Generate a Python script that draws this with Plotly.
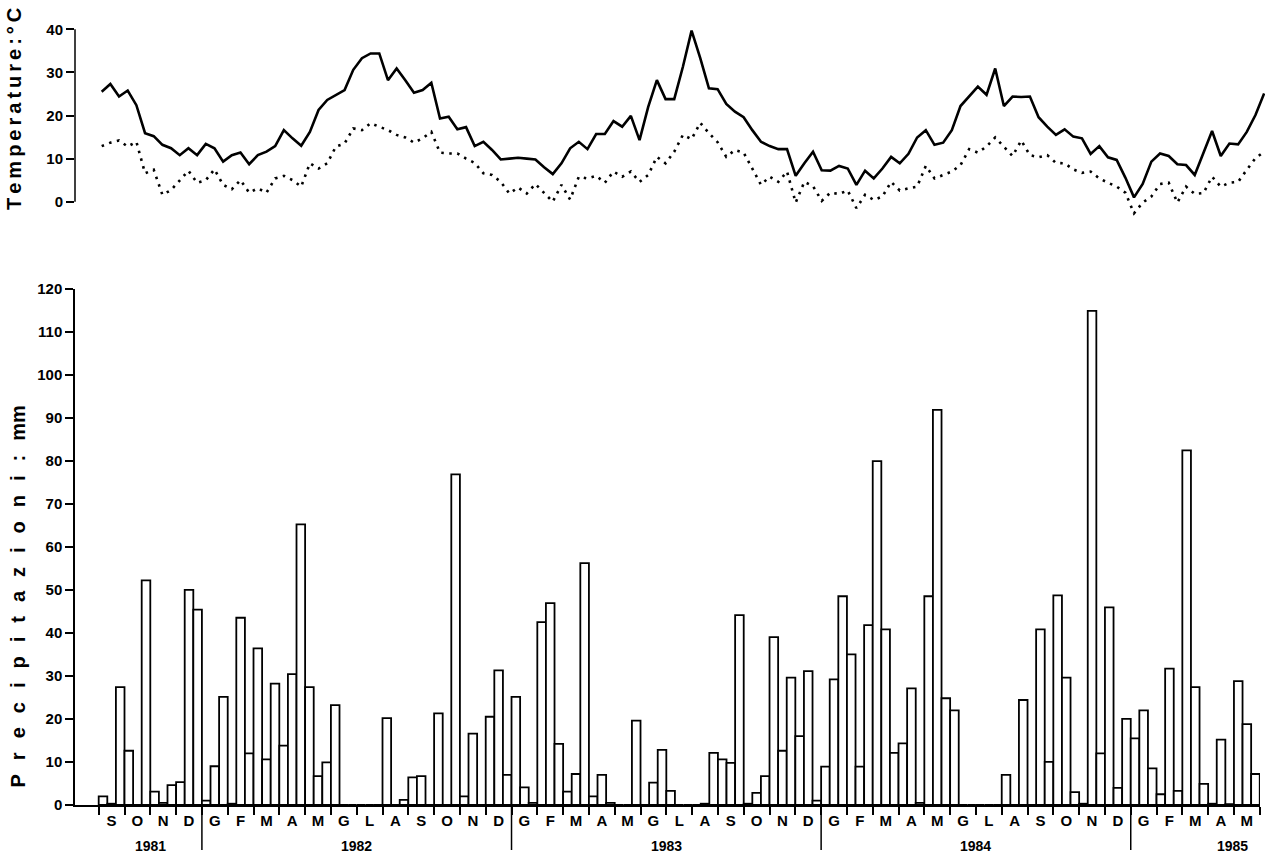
import plotly.graph_objects as go

# ---------------- data (10-day periods, Sep 1981 - May 1985) ----------------
precip_1981 = [2.0, 0.3, 27.4, 12.6, 0.0, 52.2, 3.1, 0.5, 4.6, 5.3, 50.0, 45.4]
precip_1982 = [1.0, 9.0, 25.1, 0.3, 43.5, 12.0, 36.4, 10.6, 28.2, 13.8, 30.4, 65.2,
               27.4, 6.7, 9.9, 23.2, 0.0, 0.0, 0.0, 0.0, 0.0, 20.2, 0.0, 1.2,
               6.4, 6.7, 0.0, 21.3, 0.0, 76.8, 2.0, 16.6, 0.0, 20.5, 31.3, 7.0]
precip_1983 = [25.1, 4.1, 0.5, 42.5, 46.9, 14.2, 3.1, 7.2, 56.2, 2.0, 7.0, 0.5,
               0.0, 0.0, 19.6, 0.0, 5.2, 12.8, 3.3, 0.0, 0.0, 0.0, 0.3, 12.1,
               10.6, 9.8, 44.1, 0.3, 2.8, 6.7, 39.0, 12.6, 29.6, 16.0, 31.1, 1.0]
precip_1984 = [8.9, 29.2, 48.5, 35.0, 8.9, 41.8, 79.9, 40.8, 12.1, 14.3, 27.1, 0.5,
               48.5, 91.8, 24.8, 22.0, 0.0, 0.0, 0.0, 0.0, 0.0, 7.0, 0.0, 24.4,
               0.0, 40.8, 10.0, 48.7, 29.6, 3.0, 0.3, 114.8, 12.0, 45.9, 4.0, 20.0]
precip_1985 = [15.5, 22.0, 8.5, 2.5, 31.7, 3.3, 82.4, 27.4, 4.9, 0.3, 15.2, 0.2,
               28.8, 18.8, 7.2]
precip = precip_1981 + precip_1982 + precip_1983 + precip_1984 + precip_1985

tmax = [
    25.5, 27.3, 24.4, 25.8, 22.4, 15.9, 15.2, 13.2, 12.4, 10.8,
    12.4, 10.8, 13.4, 12.4, 9.3, 10.8, 11.4, 8.7, 10.8, 11.6,
    12.9, 16.6, 14.7, 13.0, 16.2, 21.3, 23.6, 24.8, 25.9, 30.6,
    33.3, 34.4, 34.4, 28.2, 30.9, 28.2, 25.3, 25.9, 27.6, 19.3,
    19.7, 16.8, 17.3, 12.9, 13.9, 12.0, 9.8, 10.0, 10.2, 10.0,
    9.8, 8.0, 6.4, 8.9, 12.4, 13.9, 12.2, 15.7, 15.7, 18.7,
    17.4, 19.9, 14.3, 22.0, 28.2, 23.8, 23.8, 31.3, 39.7, 33.3,
    26.3, 26.1, 22.7, 20.9, 19.6, 16.6, 13.9, 12.9, 12.2, 12.2,
    6.0, 8.9, 11.6, 7.3, 7.2, 8.3, 7.7, 3.9, 7.2, 5.4,
    7.7, 10.4, 8.9, 11.1, 14.9, 16.6, 13.2, 13.7, 16.6, 22.2,
    24.5, 26.7, 24.8, 30.9, 22.2, 24.4, 24.3, 24.4, 19.6, 17.4,
    15.5, 16.8, 15.1, 14.7, 11.1, 12.9, 10.3, 9.7, 5.6, 1.0,
    4.1, 9.3, 11.2, 10.6, 8.7, 8.5, 6.2, 11.1, 16.4, 10.6,
    13.5, 13.3, 16.2, 20.1, 25.1]

tmin = [
    12.9, 13.7, 14.2, 12.8, 13.9, 6.6, 7.4, 1.6, 2.7, 5.0,
    7.2, 4.4, 5.0, 7.5, 3.9, 2.9, 5.0, 2.1, 3.1, 2.1,
    5.4, 6.0, 5.0, 3.5, 8.9, 7.7, 8.9, 12.8, 13.5, 17.0,
    16.6, 18.2, 17.4, 16.6, 15.5, 14.9, 13.7, 14.7, 16.2, 11.4,
    11.2, 11.2, 10.0, 9.0, 6.6, 6.2, 4.6, 1.9, 3.3, 1.9,
    4.1, 2.1, 0.0, 3.9, 0.5, 5.8, 5.4, 6.0, 4.4, 7.0,
    5.8, 7.0, 4.6, 6.2, 10.4, 8.9, 11.6, 15.5, 14.5, 18.3,
    15.9, 13.8, 10.4, 12.0, 11.4, 7.7, 3.9, 5.8, 4.6, 7.0,
    -0.2, 4.6, 3.6, 0.2, 2.1, 1.8, 2.6, -1.5, 1.6, 0.4,
    1.2, 4.6, 2.6, 3.1, 3.5, 8.3, 5.4, 6.2, 7.0, 8.5,
    12.2, 11.4, 12.8, 14.9, 12.8, 10.6, 14.2, 10.8, 10.3, 10.8,
    9.0, 8.9, 7.5, 6.7, 7.0, 5.4, 4.4, 3.5, 2.1, -2.7,
    -0.2, 1.2, 4.1, 4.4, -0.2, 3.5, 1.8, 2.0, 5.8, 3.5,
    4.4, 4.6, 7.4, 10.1, 11.6]

month_letters = ["S", "O", "N", "D",
                 "G", "F", "M", "A", "M", "G", "L", "A", "S", "O", "N", "D",
                 "G", "F", "M", "A", "M", "G", "L", "A", "S", "O", "N", "D",
                 "G", "F", "M", "A", "M", "G", "L", "A", "S", "O", "N", "D",
                 "G", "F", "M", "A", "M"]
years = ["1981", "1982", "1983", "1984", "1985"]
year_label_pos = [5.5, 29.5, 65.5, 101.5, 131.3]   # in 10-day-period units
year_dividers = [11.5, 47.5, 83.5, 119.5]
temp_ticks = [0, 10, 20, 30, 40]
precip_ticks = list(range(0, 121, 10))

# ---------------- derived positions ----------------
dekad = list(range(len(precip)))
month_centers = [3 * m + 1 for m in range(len(month_letters))]
month_bounds = [3 * m - 0.5 for m in range(len(month_letters) + 1)]

FONT = "Liberation Sans, Arial, sans-serif"
BLACK = "black"

fig = go.Figure()

fig.add_trace(go.Bar(
    x=dekad, y=precip, width=1,
    marker=dict(color="white", line=dict(color=BLACK, width=1.8)),
    xaxis="x", yaxis="y", showlegend=False, hoverinfo="x+y"))

fig.add_trace(go.Scatter(
    x=dekad, y=tmax, mode="lines",
    line=dict(color=BLACK, width=2.6),
    xaxis="x2", yaxis="y2", showlegend=False))

fig.add_trace(go.Scatter(
    x=dekad, y=tmin, mode="lines",
    line=dict(color=BLACK, width=2.6, dash="2.5px,5.5px"),
    xaxis="x2", yaxis="y2", showlegend=False))

tick_font = dict(family=FONT, size=15, color=BLACK, weight="bold")

fig.update_layout(
    width=1265, height=854,
    margin=dict(l=75, r=0, t=0, b=49, autoexpand=False),
    paper_bgcolor="white", plot_bgcolor="white",
    font=dict(family=FONT, color=BLACK),
    showlegend=False,
    xaxis=dict(
        domain=[0, 1185 / 1190], range=[-3.256, 134.53], anchor="y",
        automargin=False,
        showgrid=False, zeroline=False,
        showline=True, linecolor=BLACK, linewidth=1.5,
        tickmode="array", tickvals=month_centers, ticktext=month_letters,
        ticks="", tickfont=dict(family=FONT, size=15, color=BLACK, weight="bold"),
        ticklabelstandoff=1,
        minor=dict(tickmode="array", tickvals=month_bounds, ticks="outside",
                   ticklen=8, tickwidth=1.5, tickcolor=BLACK, showgrid=False),
    ),
    yaxis=dict(
        domain=[0, (805 - 288.5) / 805], range=[0, 120], anchor="x",
        automargin=False,
        showgrid=False, zeroline=False,
        showline=True, linecolor=BLACK, linewidth=1.5,
        tickmode="array", tickvals=precip_ticks,
        ticks="outside", ticklen=8, tickwidth=1.5, tickcolor=BLACK,
        tickfont=tick_font,
    ),
    xaxis2=dict(
        domain=[0, 1], range=[-3.076, 134.1], anchor="y2", visible=False,
        automargin=False,
    ),
    yaxis2=dict(
        domain=[0.72, 1.0], range=[-5.5, 46.8], anchor="x2",
        automargin=False,
        showgrid=False, zeroline=False, showline=False,
        tickmode="array", tickvals=temp_ticks,
        ticks="outside", ticklen=8, tickwidth=1.5, tickcolor=BLACK,
        tickfont=tick_font,
    ),
)

# left spine of the temperature panel (0 to 40 only)
fig.add_shape(type="line", xref="paper", yref="y2", x0=0, x1=0,
              y0=temp_ticks[0], y1=temp_ticks[-1],
              line=dict(color=BLACK, width=1.5))

# year dividers below the time axis
for xd in year_dividers:
    fig.add_shape(type="line", xref="x", yref="paper", x0=xd, x1=xd,
                  y0=0, y1=-45 / 805, line=dict(color=BLACK, width=1.5))

# year labels
for yl, xp in zip(years, year_label_pos):
    fig.add_annotation(text=yl, xref="x", yref="paper", x=xp, y=-40.5 / 805,
                       showarrow=False, xanchor="center", yanchor="middle",
                       font=dict(family=FONT, size=14, color=BLACK, weight="bold"))

# axis titles
temp_title = "\u2009".join("Temperature:°C")
prec_title = "\u2002\u2009".join(list("Precipitazioni") + [":", "mm"])
fig.add_annotation(text=temp_title, xref="paper", yref="paper",
                   x=-61 / 1190, y=(805 - 109) / 805, textangle=-90,
                   showarrow=False, xanchor="center", yanchor="middle",
                   font=dict(family=FONT, size=20, color=BLACK, weight="bold"))
fig.add_annotation(text=prec_title, xref="paper", yref="paper",
                   x=-58 / 1190, y=(805 - 596.5) / 805, textangle=-90,
                   showarrow=False, xanchor="center", yanchor="middle",
                   font=dict(family=FONT, size=20, color=BLACK, weight="bold"))

fig.write_html("out.html",
               config={"displayModeBar": False},
               post_script="document.body.style.margin='0';document.body.style.overflow='hidden';")
